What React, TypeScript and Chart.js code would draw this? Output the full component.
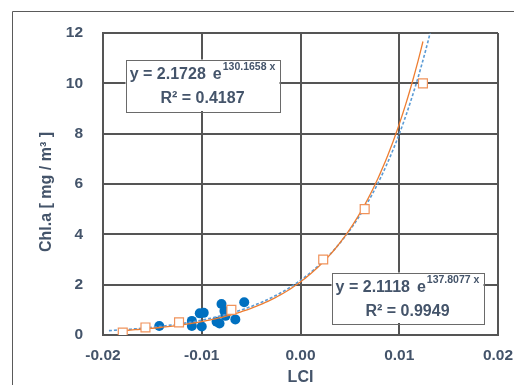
import React, { useEffect, useRef } from 'react';
import { Chart, registerables } from 'chart.js';

Chart.register(...registerables);

// Observed samples (filled blue dots)
const lciObs = [-0.0143, -0.0110, -0.0110, -0.0102, -0.0098, -0.0100, -0.0085, -0.0082, -0.0080, -0.0077, -0.0076, -0.0066, -0.0057];
const chlObs = [0.36, 0.56, 0.36, 0.86, 0.88, 0.34, 0.53, 0.46, 1.23, 0.95, 0.76, 0.62, 1.30];

// Reference points (hollow orange squares)
const lciRef = [-0.0180, -0.0157, -0.0123, -0.0070, 0.0023, 0.0065, 0.0124];
const chlRef = [0.1, 0.3, 0.5, 1.0, 3.0, 5.0, 10.0];

// Exponential trendlines as shown by their equations: y = a * e^(b x)
const obsFitCoef = [2.1728, 130.1658];
const obsFitRange = [-0.0194, 0.0135];
const obsFitR2 = '0.4187';
const refFitCoef = [2.1118, 137.8077];
const refFitRange = [-0.0180, 0.0124];
const refFitR2 = '0.9949';

const xTickLabels = ['-0.02', '-0.01', '0.00', '0.01', '0.02'];
const yTickLabels = ['0', '2', '4', '6', '8', '10', '12'];

const xTitle = 'LCI';
const yTitle = 'Chl.a [ mg / m³ ]';

const TEXT = '#44546A';
const GRID = '#555555';
const FONT = '"Liberation Sans", Arial, Helvetica, sans-serif';

function trendPoints(coef: number[], range: number[], n: number) {
  const pts: { x: number; y: number }[] = [];
  for (let i = 0; i <= n; i++) {
    const x = range[0] + ((range[1] - range[0]) * i) / n;
    pts.push({ x, y: coef[0] * Math.exp(coef[1] * x) });
  }
  return pts;
}

function drawEqBox(
  ctx: CanvasRenderingContext2D,
  left: number,
  top: number,
  w: number,
  h: number,
  coef: number[],
  r2: string
) {
  ctx.save();
  ctx.fillStyle = '#ffffff';
  ctx.fillRect(left, top, w, h);
  ctx.strokeStyle = '#6a6a6a';
  ctx.lineWidth = 1;
  ctx.strokeRect(Math.round(left) + 0.5, Math.round(top) + 0.5, Math.round(w), Math.round(h));

  const lead = `y = ${coef[0].toFixed(4)}`;
  const base = 'e';
  const sup = `${coef[1].toFixed(4)} x`;
  ctx.fillStyle = TEXT;
  ctx.textBaseline = 'alphabetic';
  ctx.textAlign = 'left';
  ctx.font = `bold 16px ${FONT}`;
  const lw = ctx.measureText(lead).width;
  const gap = 7;
  const bw = ctx.measureText(base).width;
  ctx.font = `bold 10.5px ${FONT}`;
  const sw = ctx.measureText(sup).width;
  const total = lw + gap + bw + 1 + sw;
  const sx = left + w / 2 - total / 2;
  ctx.font = `bold 16px ${FONT}`;
  ctx.fillText(lead, sx, top + 14 + 5.7);
  ctx.fillText(base, sx + lw + gap, top + 14 + 5.7);
  ctx.font = `bold 10.5px ${FONT}`;
  ctx.fillText(sup, sx + lw + gap + bw + 1, top + 7 + 3.8);

  ctx.font = `bold 16px ${FONT}`;
  ctx.textAlign = 'center';
  ctx.fillText(`R² = ${r2}`, left + w / 2, top + 38 + 5.7);
  ctx.restore();
}

const decorPlugin = {
  id: 'decor',
  beforeDraw(chart: any) {
    const ctx = chart.ctx as CanvasRenderingContext2D;
    ctx.save();
    ctx.fillStyle = '#ffffff';
    ctx.fillRect(0, 0, chart.width, chart.height);
    ctx.strokeStyle = '#5a5a5a';
    ctx.lineWidth = 1;
    ctx.beginPath();
    ctx.moveTo(12.5, chart.height);
    ctx.lineTo(12.5, 11.5);
    ctx.lineTo(chart.width, 11.5);
    ctx.stroke();
    ctx.restore();
  },
  afterDraw(chart: any) {
    const ctx = chart.ctx as CanvasRenderingContext2D;
    const ca = chart.chartArea;
    // axis titles
    ctx.save();
    ctx.fillStyle = TEXT;
    ctx.font = `bold 16px ${FONT}`;
    ctx.textAlign = 'center';
    ctx.textBaseline = 'alphabetic';
    ctx.fillText(xTitle, (ca.left + ca.right) / 2, 376 + 5.7);
    ctx.translate(45, 192);
    ctx.rotate(-Math.PI / 2);
    ctx.fillText(yTitle, 0, 5.7);
    ctx.restore();

    drawEqBox(ctx, ca.left + 22.5, ca.top + 26.5, 154, 51.5, obsFitCoef, obsFitR2);
    drawEqBox(ctx, ca.left + 228.5, ca.top + 239.5, 152, 50.5, refFitCoef, refFitR2);
  },
};

export default function App() {
  const ref = useRef<HTMLCanvasElement | null>(null);

  useEffect(() => {
    document.body.style.margin = '0';
    const canvas = ref.current;
    if (!canvas) return;

    const obsPts = lciObs.map((x, i) => ({ x, y: chlObs[i] }));
    const refPts = lciRef.map((x, i) => ({ x, y: chlRef[i] }));

    const chart = new Chart(canvas, {
      type: 'scatter',
      data: {
        datasets: [
          {
            label: 'reference',
            data: refPts,
            pointStyle: 'rect',
            pointRadius: 6.3,
            backgroundColor: '#ffffff',
            borderColor: '#F0925A',
            borderWidth: 1.2,
            showLine: false,
            order: 0,
          } as any,
          {
            label: 'ref fit',
            data: trendPoints(refFitCoef, refFitRange, 120),
            showLine: true,
            pointRadius: 0,
            borderColor: '#ED7D31',
            borderWidth: 1.3,
            tension: 0,
            order: 1,
          } as any,
          {
            label: 'obs fit',
            data: trendPoints(obsFitCoef, obsFitRange, 120),
            showLine: true,
            pointRadius: 0,
            borderColor: '#5B9BD5',
            borderWidth: 1.6,
            borderDash: [3, 2],
            tension: 0,
            order: 2,
          } as any,
          {
            label: 'observed',
            data: obsPts,
            pointStyle: 'circle',
            pointRadius: 5,
            backgroundColor: '#0070C0',
            borderColor: '#0070C0',
            borderWidth: 0,
            showLine: false,
            order: 3,
          } as any,
        ],
      },
      options: {
        responsive: false,
        animation: false,
        events: [],
        layout: { padding: { left: 0, right: 16, top: 33, bottom: 0 } },
        plugins: {
          legend: { display: false },
          tooltip: { enabled: false },
        },
        scales: {
          x: {
            type: 'linear',
            min: -0.02,
            max: 0.02,
            afterFit: (s: any) => {
              s.height = 50;
              s.paddingLeft = 0;
              s.paddingRight = 0;
            },
            ticks: {
              stepSize: 0.01,
              autoSkip: false,
              maxRotation: 0,
              padding: 11,
              color: TEXT,
              font: { family: FONT, size: 15.5, weight: 'bold' },
              callback: (_v: any, i: number) => xTickLabels[i],
            },
            grid: { color: GRID, lineWidth: 2, drawTicks: false },
            border: { display: true, color: GRID, width: 2 },
          },
          y: {
            type: 'linear',
            min: 0,
            max: 12,
            afterFit: (s: any) => {
              s.width = 103;
              s.paddingTop = 0;
              s.paddingBottom = 0;
            },
            ticks: {
              stepSize: 2,
              autoSkip: false,
              padding: 20,
              color: TEXT,
              font: { family: FONT, size: 15.5, weight: 'bold' },
              callback: (_v: any, i: number) => yTickLabels[i],
            },
            grid: { color: GRID, lineWidth: 2, drawTicks: false },
            border: { display: true, color: GRID, width: 2 },
          },
        },
      } as any,
      plugins: [decorPlugin],
    });

    return () => chart.destroy();
  }, []);

  return (
    <div style={{ position: 'absolute', left: 0, top: 0, width: 514, height: 385 }}>
      <canvas ref={ref} width={514} height={385} style={{ display: 'block', width: 514, height: 385 }} />
    </div>
  );
}
